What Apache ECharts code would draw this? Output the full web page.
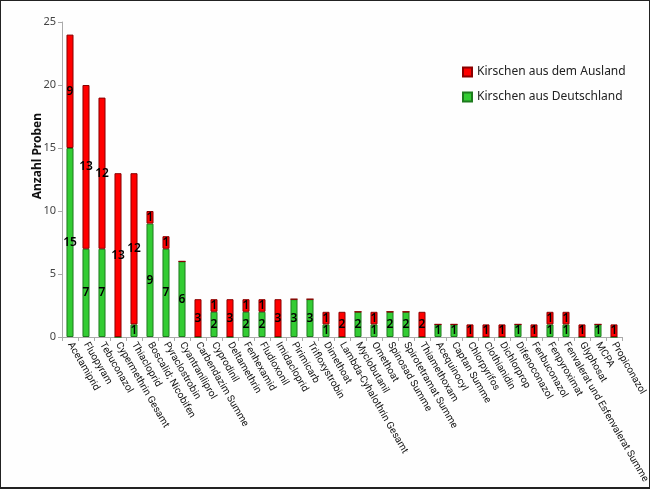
<!DOCTYPE html>
<html><head><meta charset="utf-8">
<script src="https://cdn.jsdelivr.net/npm/echarts@6/dist/echarts.min.js"></script>
<style>
html,body{margin:0;padding:0;background:#fff;}
#c{width:648px;height:486px;border:1px solid #222;border-bottom-width:2px;background:#fefefe;}
</style></head><body>
<div id="c"></div>
<script>
const categories = ["Acetamiprid","Fluopyram","Tebuconazol","Cypermethrin Gesamt","Thiacloprid","Boscalid; Nicobifen","Pyraclostrobin","Cyantraniliprol","Carbendazim Summe","Cyprodinil","Deltamethrin","Fenhexamid","Fludioxonil","Imidacloprid","Pirimicarb","Trifloxystrobin","Dimethoat","Lambda-Cyhalothrin Gesamt","Myclobutanil","Omethoat","Spinosad Summe","Spirotetramat Summe","Thiamethoxam","Acequinocyl","Captan Summe","Chlorpyrifos","Clothianidin","Dichlorprop","Difenoconazol","Fenbuconazol","Fenpyroximat","Fenvalerat und Esfenvalerat Summe","Glyphosat","MCPA","Propiconazol"];
const deutschland = [15,7,7,0,1,9,7,6,0,2,0,2,2,0,3,3,1,0,2,1,2,2,0,1,1,0,0,0,1,0,1,1,0,1,0];
const ausland = [9,13,12,13,12,1,1,0,3,1,3,1,1,3,0,0,1,2,0,1,0,0,2,0,0,1,1,1,0,1,1,1,1,0,1];
const yTicks = [0,5,10,15,20,25];
const seriesNames = ["Kirschen aus Deutschland","Kirschen aus dem Ausland"];

const chart = echarts.init(document.getElementById('c'));
const lbl = {show:true, position:'inside', color:'#000', fontSize:12, fontWeight:600, fontFamily:'Noto Sans',
  textBorderWidth:0, textShadowBlur:0,
  formatter: p => p.value ? String(p.value) : ''};
chart.setOption({
  animation:false,
  grid:{left:61, right:27, top:21, bottom:150, containLabel:false, outerBoundsMode:'none'},
  legend:{
    data:[seriesNames[1], seriesNames[0]], orient:'vertical', left:456, top:60,
    itemWidth:9, itemHeight:9, itemGap:13, icon:'rect',
    textStyle:{fontSize:12, color:'#222', fontFamily:'Noto Sans'}
  },
  graphic:[{type:'text', left:31, top:112, rotation:Math.PI/2,
    style:{text:'Anzahl Proben', fontSize:12, fontWeight:'bold', fill:'#111', fontFamily:'Noto Sans'}}],
  xAxis:{
    type:'category', data:categories,
    axisLine:{lineStyle:{color:'#aaa'}},
    axisTick:{show:true, length:4, lineStyle:{color:'#aaa'}},
    axisLabel:{rotate:-60, interval:0, color:'#111', fontSize:10, fontFamily:'Roboto', margin:6}
  },
  yAxis:{
    type:'value', min:yTicks[0], max:yTicks[yTicks.length-1], interval:5,
    axisLine:{show:true, lineStyle:{color:'#aaa'}},
    axisTick:{show:true, length:4, lineStyle:{color:'#aaa'}},
    splitLine:{show:false},
    axisLabel:{color:'#444', fontSize:11, fontFamily:'Noto Sans', margin:6}
  },
  series:[
    {name:seriesNames[0], type:'bar', stack:'a', data:deutschland, barWidth:'44%',
     itemStyle:{color:'#33cc33', borderColor:'#1e7a1e', borderWidth:1}, label:lbl, labelLayout:{hideOverlap:false}},
    {name:seriesNames[1], type:'bar', stack:'a', data:ausland, barWidth:'44%',
     itemStyle:{color:'#ff0000', borderColor:'#8a0000', borderWidth:1}, label:lbl, labelLayout:{hideOverlap:false}}
  ]
});
</script></body></html>
